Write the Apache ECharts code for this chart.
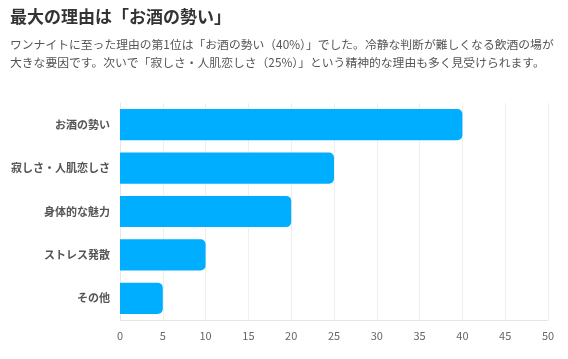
<!DOCTYPE html>
<html><head><meta charset="utf-8">
<script src="https://cdn.jsdelivr.net/npm/echarts@6/dist/echarts.min.js"></script>
<style>html,body{margin:0;padding:0;background:#fff}#c{width:568px;height:359px}</style>
</head><body><div id="c"></div>
<script>
const categories = ['お酒の勢い', '寂しさ・人肌恋しさ', '身体的な魅力', 'ストレス発散', 'その他'];
const values = [40, 25, 20, 10, 5];
const titleText = '最大の理由は「お酒の勢い」';
const subText = 'ワンナイトに至った理由の第1位は「お酒の勢い（40%）」でした。冷静な判断が難しくなる飲酒の場が\n大きな要因です。次いで「寂しさ・人肌恋しさ（25%）」という精神的な理由も多く見受けられます。';
const FF = '"Noto Sans CJK JP", "Noto Sans", sans-serif';
const chart = echarts.init(document.getElementById('c'), null, {renderer: 'canvas'});
chart.setOption({
  animation: false,
  textStyle: {fontFamily: FF},
  title: {
    text: titleText, subtext: subText, left: 10, top: 8, padding: 0, itemGap: 11,
    textStyle: {fontSize: 17, fontWeight: 'bold', color: '#333', fontFamily: FF},
    subtextStyle: {fontSize: 11.8, color: '#555', lineHeight: 18, fontFamily: FF}
  },
  grid: {left: 120, right: 20, top: 103, bottom: 39, containLabel: false},
  xAxis: {
    type: 'value', min: 0, max: 50, interval: 5,
    axisLine: {show: true, lineStyle: {color: '#e6e6e6'}},
    axisTick: {show: false},
    splitLine: {show: true, lineStyle: {color: '#efefef'}},
    axisLabel: {color: '#666', fontSize: 11, margin: 10, fontFamily: FF}
  },
  yAxis: {
    type: 'category', data: categories, inverse: true,
    axisLine: {show: true, lineStyle: {color: '#e6e6e6'}},
    axisTick: {show: false},
    axisLabel: {color: '#555', fontSize: 11, fontWeight: 'bold', margin: 10, fontFamily: FF}
  },
  series: [{
    type: 'bar', data: values, barWidth: '72%',
    itemStyle: {color: '#00AEFF', borderRadius: [0, 5, 5, 0]}
  }]
});
</script></body></html>
